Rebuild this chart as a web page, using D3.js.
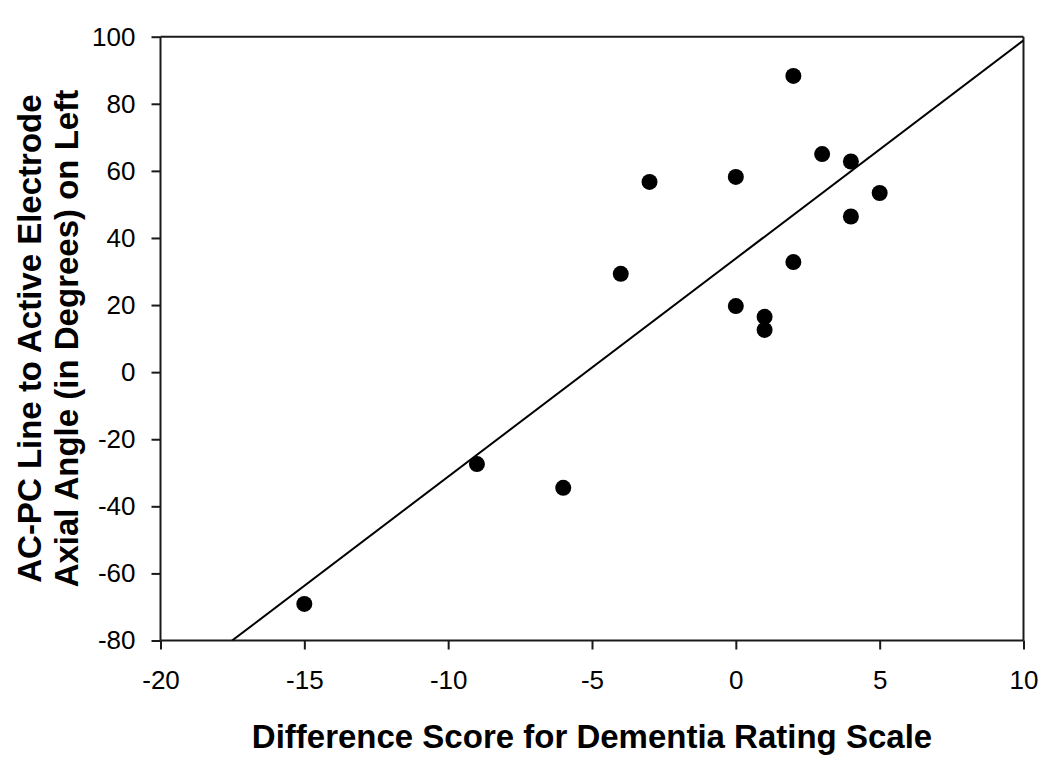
<!DOCTYPE html>
<html>
<head>
<meta charset="utf-8">
<script src="https://cdn.jsdelivr.net/npm/d3@7"></script>
<style>
  html, body { margin: 0; padding: 0; background: #ffffff; }
  svg { display: block; }
  text { font-family: "Liberation Sans", Arial, sans-serif; fill: #000; }
</style>
</head>
<body>
<svg id="chart" width="1050" height="759"></svg>
<script>
// Data
const xValues = [-15, -9, -6, -4, -3, 0, 0, 1, 1, 2, 2, 3, 4, 4, 5];
const yValues = [-69.1, -27.4, -34.5, 29.3, 56.7, 58.2, 19.7, 16.5, 12.6, 88.3, 32.8, 65.0, 62.8, 46.4, 53.4];
const xTicks = [-20, -15, -10, -5, 0, 5, 10];
const yTicks = [-80, -60, -40, -20, 0, 20, 40, 60, 80, 100];
const xDomain = [-20, 10];
const yDomain = [-80, 100];
const xTitle = "Difference Score for Dementia Rating Scale";
const yTitleLines = ["AC-PC Line to Active Electrode", "Axial Angle (in Degrees) on Left"];

const W = 1050, H = 759;
const margin = { left: 160.5, top: 36.7, right: 26.5, bottom: 118.5 };
const iw = W - margin.left - margin.right;
const ih = H - margin.top - margin.bottom;

const svg = d3.select("#chart");
svg.append("rect").attr("width", W).attr("height", H).attr("fill", "#ffffff");

const g = svg.append("g").attr("transform", `translate(${margin.left},${margin.top})`);

const x = d3.scaleLinear().domain(xDomain).range([0, iw]);
const y = d3.scaleLinear().domain(yDomain).range([ih, 0]);

svg.append("defs").append("clipPath").attr("id", "plotclip")
  .append("rect").attr("x", 0).attr("y", 0).attr("width", iw).attr("height", ih);

const axisColor = "#1a1a1a";
g.append("line").attr("x1", 0).attr("x2", iw).attr("y1", 0).attr("y2", 0)
  .attr("stroke", axisColor).attr("stroke-width", 2);
g.append("line").attr("x1", iw).attr("x2", iw).attr("y1", 0).attr("y2", ih)
  .attr("stroke", axisColor).attr("stroke-width", 2);

const fmt = d => String(d);  // plain hyphen-minus, as in the reference
const xAxis = d3.axisBottom(x).tickValues(xTicks).tickSize(9).tickPadding(21).tickFormat(fmt);
const yAxis = d3.axisLeft(y).tickValues(yTicks).tickSize(9).tickPadding(16).tickFormat(fmt);

const gx = g.append("g").attr("transform", `translate(0,${ih})`).call(xAxis);
const gy = g.append("g").call(yAxis);

[gx, gy].forEach(a => {
  a.select(".domain").attr("stroke", axisColor).attr("stroke-width", 2);
  a.selectAll(".tick line").attr("stroke", axisColor).attr("stroke-width", 2);
  a.selectAll(".tick text")
    .attr("font-family", "'Liberation Sans', Arial, sans-serif")
    .attr("font-size", 26).attr("fill", "#000");
});
gx.select(".domain").attr("d", `M0,0H${iw}`);
gy.select(".domain").attr("d", `M0,${ih}V0`);

// Least-squares fit computed from the data
const mx = d3.mean(xValues), my = d3.mean(yValues);
let sxy = 0, sxx = 0;
xValues.forEach((v, i) => { sxy += (v - mx) * (yValues[i] - my); sxx += (v - mx) * (v - mx); });
const slope = sxy / sxx;
const intercept = my - slope * mx;
const xStart = (yDomain[0] - intercept) / slope;
const fitPts = [[xStart, slope * xStart + intercept], [xDomain[1], slope * xDomain[1] + intercept]];

g.append("g").attr("clip-path", "url(#plotclip)")
  .append("path")
  .datum(fitPts)
  .attr("d", d3.line().x(d => x(d[0])).y(d => y(d[1])))
  .attr("fill", "none").attr("stroke", "#000").attr("stroke-width", 2);

const pts = xValues.map((v, i) => ({ x: v, y: yValues[i] }));
g.append("g").selectAll("circle").data(pts).join("circle")
  .attr("cx", d => x(d.x)).attr("cy", d => y(d.y)).attr("r", 8)
  .attr("fill", "#000");

svg.append("text")
  .attr("x", margin.left + iw / 2).attr("y", 748)
  .attr("text-anchor", "middle")
  .attr("font-size", 33).attr("font-weight", "bold")
  .text(xTitle);

const yc = margin.top + ih / 2;
const baselines = [41, 78];
yTitleLines.forEach((t, i) => {
  svg.append("text")
    .attr("transform", `translate(${baselines[i]},${yc}) rotate(-90)`)
    .attr("text-anchor", "middle")
    .attr("font-size", 33).attr("font-weight", "bold")
    .text(t);
});
</script>
</body>
</html>
